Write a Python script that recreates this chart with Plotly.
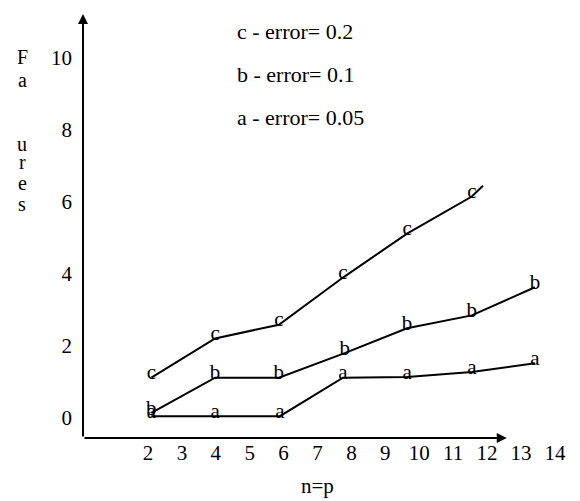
import plotly.graph_objects as go

# ---- data (y at the line position) ----
c_x = [2.1, 3.98, 5.86, 7.75, 9.64, 11.55, 11.88]
c_y = [1.12, 2.21, 2.59, 3.9, 5.12, 6.15, 6.45]
c_lbl = ["c", "c", "c", "c", "c", "c", ""]

b_x = [2.1, 3.98, 5.86, 7.8, 9.64, 11.55, 13.41]
b_y = [0.14, 1.12, 1.12, 1.8, 2.49, 2.85, 3.63]
b_lbl = ["b"] * 7

a_x = [2.1, 3.98, 5.89, 7.75, 9.64, 11.55, 13.41]
a_y = [0.05, 0.05, 0.05, 1.12, 1.14, 1.28, 1.52]
a_lbl = ["a"] * 7

x_ticks = [2, 3, 4, 5, 6, 7, 8, 9, 10, 11, 12, 13, 14]
y_ticks = [0, 2, 4, 6, 8, 10]

legend_lines = ["c - error= 0.2", "b - error= 0.1", "a - error= 0.05"]
ylabel_letters = ["F", "a", "u", "r", "e", "s"]

X_RANGE = [0.084, 14.74]
Y_RANGE = [-0.556, 11.22]
FONT = "Liberation Serif, DejaVu Serif, serif"
LABEL_LIFT = 0.1  # letters sit slightly above the line (in y units)

W, H = 580, 501
L, R, T, B = 83, 0, 14, 63
pw, ph = W - L - R, H - T - B


def paper_x(px):
    return (px - L) / pw


def paper_y(py):
    return (H - B - py) / ph


fig = go.Figure()
for xs, ys, lbl in [(c_x, c_y, c_lbl), (b_x, b_y, b_lbl), (a_x, a_y, a_lbl)]:
    fig.add_trace(go.Scatter(
        x=xs, y=ys, mode="lines",
        line=dict(color="black", width=2),
        showlegend=False, hoverinfo="skip"))
    fig.add_trace(go.Scatter(
        x=xs, y=[v + LABEL_LIFT for v in ys], mode="text", text=lbl,
        textposition="middle center",
        textfont=dict(family=FONT, size=21, color="black"),
        showlegend=False, hoverinfo="skip"))

# axis arrows
fig.add_annotation(x=12.58, y=Y_RANGE[0], ax=X_RANGE[0], ay=Y_RANGE[0],
                   xref="x", yref="y", axref="x", ayref="y", text="",
                   showarrow=True, arrowhead=2, arrowsize=1, arrowwidth=2,
                   arrowcolor="black")
fig.add_annotation(x=X_RANGE[0], y=Y_RANGE[1], ax=X_RANGE[0], ay=Y_RANGE[0],
                   xref="x", yref="y", axref="x", ayref="y", text="",
                   showarrow=True, arrowhead=2, arrowsize=1, arrowwidth=2,
                   arrowcolor="black")

# legend-like texts
for i, t in enumerate(legend_lines):
    fig.add_annotation(x=paper_x(235), y=paper_y(31 + i * 43.5), xref="paper", yref="paper",
                       text=t, showarrow=False, xanchor="left", yanchor="middle",
                       font=dict(family=FONT, size=22, color="black"))

# y axis label letters
ylab_py = [57, 80, 144, 162, 183, 204]
for ch, py in zip(ylabel_letters, ylab_py):
    fig.add_annotation(x=paper_x(22), y=paper_y(py), xref="paper", yref="paper",
                       text=ch, showarrow=False,
                       xanchor="center", yanchor="middle",
                       font=dict(family=FONT, size=20, color="black"))

# x axis title
fig.add_annotation(x=7.0, y=paper_y(500), xref="x", yref="paper", text="n=p",
                   showarrow=False, xanchor="center", yanchor="bottom",
                   font=dict(family=FONT, size=21, color="black"))

fig.update_layout(
    width=W, height=H,
    margin=dict(l=L, r=R, t=T, b=B, pad=0),
    paper_bgcolor="white", plot_bgcolor="white",
    font=dict(family=FONT, size=21, color="black"),
    xaxis=dict(range=X_RANGE, tickvals=x_ticks, showgrid=False, zeroline=False,
               showline=False, ticks="", ticklabelstandoff=0,
               tickfont=dict(family=FONT, size=21, color="black")),
    yaxis=dict(range=Y_RANGE, tickvals=y_ticks, showgrid=False, zeroline=False,
               showline=False, ticks="", ticklabelstandoff=10,
               tickfont=dict(family=FONT, size=21, color="black")),
)

fig.write_html("out.html")
